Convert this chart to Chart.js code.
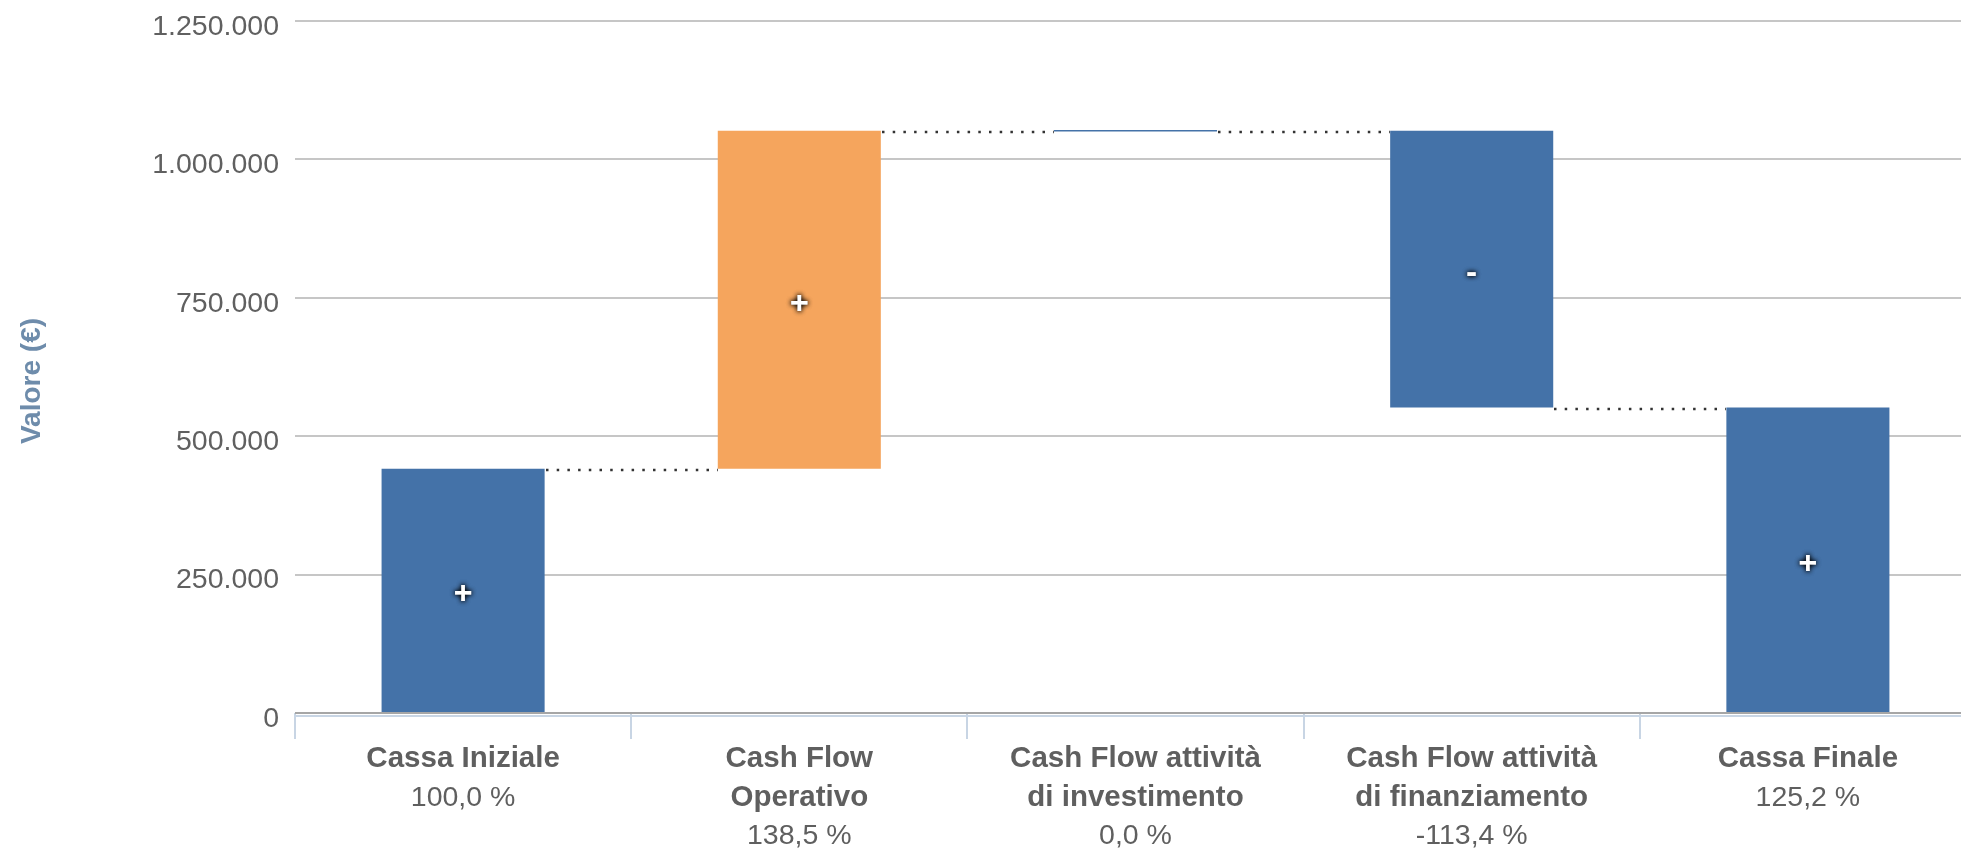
<!DOCTYPE html>
<html>
<head>
<meta charset="utf-8">
<script src="https://cdn.jsdelivr.net/npm/chart.js@4/dist/chart.umd.min.js"></script>
<style>
  html, body { margin: 0; padding: 0; background: #fff; overflow: hidden; }
  #wrap { width: 1976px; height: 852px; }
</style>
</head>
<body>
<div id="wrap"><canvas id="chart" width="1976" height="852"></canvas></div>
<script>
// Dati
const categories = [
  ['Cassa Iniziale'],
  ['Cash Flow', 'Operativo'],
  ['Cash Flow attività', 'di investimento'],
  ['Cash Flow attività', 'di finanziamento'],
  ['Cassa Finale']
];
const percentLabels = ['100,0 %', '138,5 %', '0,0 %', '-113,4 %', '125,2 %'];
const flowValues = [441000, 610800, 0, -500100, 551700];
const isTotal = [true, false, false, false, true];
const yTicks = [0, 250000, 500000, 750000, 1000000, 1250000];
const yTitle = 'Valore (€)';

const FONT = '"Liberation Sans", Arial, sans-serif';
const BLUE = '#4472a8';
const ORANGE = '#f5a55d';

// Barre fluttuanti (cascata)
let running = 0;
const ranges = flowValues.map((v, i) => {
  if (isTotal[i]) { running = v; return [0, v]; }
  const r = [running, running + v];
  running += v;
  return r;
});
const barColors = flowValues.map((v, i) => (!isTotal[i] && v > 0) ? ORANGE : BLUE);

function fmt(n) {
  return String(n).replace(/\B(?=(\d{3})+(?!\d))/g, '.');
}

const waterfallPlugin = {
  id: 'waterfall',
  afterDatasetsDraw(chart) {
    const { ctx } = chart;
    const y = chart.scales.y;
    const bars = chart.getDatasetMeta(0).data;

    // linee puntinate di collegamento
    ctx.save();
    ctx.strokeStyle = '#333333';
    ctx.lineWidth = 2.5;
    ctx.setLineDash([2.5, 8.2]);
    for (let i = 0; i < bars.length - 1; i++) {
      const level = ranges[i][1];
      const py = Math.round(y.getPixelForValue(level)) + 1;
      const x1 = Math.round(bars[i].x + bars[i].width / 2) + 1;
      const x2 = Math.round(bars[i + 1].x - bars[i + 1].width / 2);
      ctx.beginPath();
      ctx.moveTo(x1, py);
      ctx.lineTo(x2, py);
      ctx.stroke();
    }
    ctx.restore();

    // barre a valore zero: solo una linea sottile
    ctx.save();
    ctx.strokeStyle = BLUE;
    ctx.lineWidth = 1.5;
    bars.forEach((b, i) => {
      if (flowValues[i] !== 0) return;
      const py = y.getPixelForValue(ranges[i][1]);
      ctx.beginPath();
      ctx.moveTo(b.x - b.width / 2, py);
      ctx.lineTo(b.x + b.width / 2, py);
      ctx.stroke();
    });
    ctx.restore();

    // segni + / -
    ctx.save();
    ctx.font = 'bold 32px ' + FONT;
    ctx.textAlign = 'center';
    ctx.textBaseline = 'middle';
    ctx.fillStyle = '#ffffff';
    ctx.shadowColor = 'rgba(0,0,0,0.9)';
    ctx.shadowBlur = 5;
    bars.forEach((b, i) => {
      const v = flowValues[i];
      if (v === 0) return;
      const sign = v > 0 ? '+' : '-';
      const cy = (b.y + b.base) / 2 + 4;
      ctx.fillText(sign, b.x, cy);
      ctx.fillText(sign, b.x, cy);
    });
    ctx.restore();
  },
  afterDraw(chart) {
    const { ctx, chartArea } = chart;
    const x = chart.scales.x;

    // linea asse x azzurra
    ctx.save();
    ctx.strokeStyle = '#c8d5e4';
    ctx.lineWidth = 2;
    ctx.beginPath();
    ctx.moveTo(chartArea.left, chartArea.bottom + 3);
    ctx.lineTo(chartArea.right, chartArea.bottom + 3);
    ctx.stroke();
    ctx.restore();

    // titolo asse y
    ctx.save();
    ctx.translate(32, 381);
    ctx.rotate(-Math.PI / 2);
    ctx.textAlign = 'center';
    ctx.textBaseline = 'middle';
    ctx.fillStyle = '#6e8cab';
    ctx.font = 'bold 28px ' + FONT;
    ctx.fillText(yTitle, 0, 0);
    ctx.restore();

    // etichette categorie + percentuali
    ctx.save();
    ctx.textAlign = 'center';
    ctx.textBaseline = 'alphabetic';
    ctx.fillStyle = '#5f5f5f';
    categories.forEach((lines, i) => {
      const px = x.getPixelForValue(i);
      let by = chartArea.bottom + 54;
      ctx.font = 'bold 29.5px ' + FONT;
      lines.forEach(l => { ctx.fillText(l, px, by); by += 38.5; });
      ctx.font = '28.5px ' + FONT;
      ctx.fillText(percentLabels[i], px, by);
    });
    ctx.restore();
  }
};

new Chart(document.getElementById('chart'), {
  type: 'bar',
  data: {
    labels: categories,
    datasets: [{
      data: ranges,
      backgroundColor: barColors,
      borderWidth: 0,
      barPercentage: 0.485,
      categoryPercentage: 1
    }]
  },
  options: {
    responsive: false,
    animation: false,
    layout: { padding: { top: 21, right: 0, bottom: 0, left: 0 } },
    plugins: {
      legend: { display: false },
      tooltip: { enabled: false }
    },
    scales: {
      x: {
        offset: true,
        afterFit(scale) { scale.height = 139; },
        border: { display: false },
        grid: {
          offset: true,
          drawOnChartArea: false,
          drawTicks: true,
          tickLength: 26,
          color: '#c8d5e4',
          lineWidth: 2
        },
        ticks: { display: false }
      },
      y: {
        min: yTicks[0],
        max: yTicks[yTicks.length - 1],
        afterFit(scale) {
          scale.width = 295;
          scale.paddingTop = 0;
          scale.paddingBottom = 0;
        },
        afterBuildTicks(scale) { scale.ticks = yTicks.map(v => ({ value: v })); },
        border: { display: false },
        grid: {
          drawTicks: false,
          lineWidth: 2,
          color: c => (c.tick && c.tick.value === 0) ? '#a6a6a6' : '#c6c6c6'
        },
        ticks: {
          padding: 16,
          labelOffset: 6,
          color: '#606060',
          font: { family: FONT, size: 28.5 },
          callback: v => fmt(v)
        },
        title: { display: false }
      }
    }
  },
  plugins: [waterfallPlugin]
});
</script>
</body>
</html>
